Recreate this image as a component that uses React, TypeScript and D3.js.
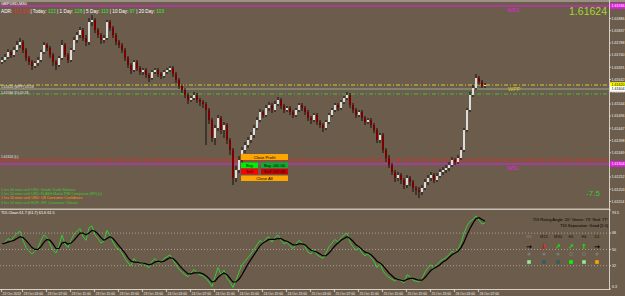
import React from "react";
import * as d3 from "d3";

const W = 625;
const H = 296;

const symbolTitle = "GBPUSD,M30";
const bigPrice = "1.61624";

const timeLabels = [
  "22 Oct 2013", "23 Oct 03:00", "23 Oct 07:00", "23 Oct 11:00", "23 Oct 15:00", "23 Oct 19:00",
  "23 Oct 23:00", "24 Oct 03:00", "24 Oct 07:00", "24 Oct 11:00", "24 Oct 15:00", "24 Oct 19:00",
  "24 Oct 23:00", "25 Oct 03:00", "25 Oct 07:00", "25 Oct 11:00", "25 Oct 15:00", "25 Oct 19:00",
  "25 Oct 23:00", "26 Oct 03:00", "26 Oct 07:00",
];
const timeLabelBars = [0, 7, 15, 23, 31, 39, 47, 55, 63, 71, 79, 87, 95, 103, 111, 119, 127, 135, 143, 151, 159];

const priceTicks = [
  1.61886, 1.61837, 1.61788, 1.6174, 1.61691, 1.61642, 1.61593, 1.61544,
  1.61496, 1.61447, 1.61398, 1.61349, 1.613, 1.61252, 1.61203, 1.61154,
];

const firstOpen = 1.61712;
const closes = [
  1.6172, 1.61732, 1.61752, 1.6174, 1.6176, 1.6178, 1.61792,
  1.6176, 1.61728, 1.61712, 1.61696, 1.61708, 1.6172, 1.61752, 1.6178,
  1.61768, 1.6174, 1.61712, 1.617, 1.61728, 1.6178,
  1.6174, 1.6172, 1.6176, 1.618,
  1.6182, 1.6184, 1.61808, 1.61792, 1.61872, 1.6188,
  1.6184, 1.6182, 1.618, 1.61808, 1.61872,
  1.61848, 1.6182, 1.61792, 1.6178, 1.6176,
  1.61728, 1.617, 1.6168, 1.61712, 1.61688,
  1.61672, 1.6168, 1.6166, 1.61648, 1.61672, 1.6168, 1.61664,
  1.61656, 1.61672, 1.6168, 1.61688, 1.61664, 1.6164,
  1.61616, 1.616, 1.6158, 1.6156,
  1.61568, 1.6158, 1.6156, 1.61552, 1.61544,
  1.6152, 1.6148, 1.61408,
  1.61448, 1.61488, 1.6144, 1.6146, 1.614, 1.6136,
  1.61248, 1.6128, 1.6132,
  1.6136, 1.6138, 1.614, 1.6142, 1.61448, 1.6148,
  1.61512, 1.615, 1.61528, 1.6154, 1.6152, 1.61544, 1.6156, 1.61536, 1.6152, 1.61528,
  1.61512, 1.615, 1.6152, 1.6154, 1.61528,
  1.61512, 1.61488, 1.6148, 1.615, 1.61472, 1.6146, 1.61448, 1.61472,
  1.615, 1.6152, 1.6154, 1.61528, 1.61552, 1.61568, 1.6158,
  1.6154, 1.6152, 1.615, 1.61512, 1.61488, 1.61472, 1.6148, 1.6146,
  1.6144, 1.614, 1.6142, 1.6136, 1.61328,
  1.613, 1.61272, 1.61248, 1.6126, 1.6124, 1.6122,
  1.61248, 1.61232, 1.61208, 1.612, 1.61192, 1.61208,
  1.61232, 1.61248, 1.6126, 1.6124, 1.61256, 1.61272, 1.6128,
  1.61288, 1.613, 1.6132, 1.61312, 1.61328,
  1.6136, 1.6144, 1.6152, 1.6158, 1.61608,
  1.61648, 1.61632, 1.61616, 1.6162,
];
const highs = [
  1.61732, 1.61744, 1.61764, 1.6176, 1.61772, 1.61796, 1.61808,
  1.618, 1.61768, 1.61736, 1.6172, 1.61716, 1.61732, 1.6176, 1.61792,
  1.61788, 1.61776, 1.61748, 1.6172, 1.61736, 1.618,
  1.61788, 1.61748, 1.61768, 1.61812,
  1.61832, 1.61852, 1.61848, 1.6182, 1.61888, 1.619,
  1.61888, 1.61848, 1.61828, 1.6182, 1.6188,
  1.6188, 1.61856, 1.61828, 1.618, 1.61788,
  1.61768, 1.61736, 1.61708, 1.6172, 1.6172,
  1.61696, 1.61688, 1.61688, 1.61668, 1.6168, 1.61688, 1.61688,
  1.61672, 1.6168, 1.61688, 1.61696, 1.61696, 1.61672,
  1.61648, 1.61624, 1.61608, 1.61588,
  1.61576, 1.61592, 1.61588, 1.61568, 1.6156,
  1.61552, 1.61528, 1.61488,
  1.6146, 1.615, 1.61496, 1.61472, 1.61468, 1.61408,
  1.61368, 1.61296, 1.61336,
  1.61372, 1.61392, 1.61412, 1.61432, 1.6146, 1.61492,
  1.61524, 1.6152, 1.6154, 1.61552, 1.61548, 1.61556, 1.61572, 1.61568, 1.61544, 1.61536,
  1.61536, 1.6152, 1.61528, 1.61548, 1.61548,
  1.61536, 1.6152, 1.61496, 1.61508, 1.61508, 1.6148, 1.61468, 1.6148,
  1.61508, 1.61528, 1.61548, 1.61548, 1.6156, 1.61576, 1.61592,
  1.61588, 1.61548, 1.61528, 1.6152, 1.6152, 1.61496, 1.61488, 1.61488,
  1.61468, 1.61448, 1.61428, 1.61428, 1.61368,
  1.6134, 1.61308, 1.6128, 1.61272, 1.61268, 1.61248,
  1.6126, 1.61256, 1.6124, 1.61216, 1.61212, 1.6122,
  1.61244, 1.6126, 1.61272, 1.61268, 1.61268, 1.61284, 1.61292,
  1.613, 1.61312, 1.61332, 1.61328, 1.6134,
  1.61372, 1.61448, 1.61528, 1.61592, 1.6162,
  1.61664, 1.61656, 1.6164, 1.61628,
];
const lows = [
  1.61704, 1.61712, 1.61724, 1.61728, 1.61732, 1.61752, 1.61768,
  1.61748, 1.61716, 1.617, 1.6168, 1.61688, 1.61696, 1.61712, 1.61744,
  1.61756, 1.61728, 1.61696, 1.6168, 1.61692, 1.6172,
  1.61732, 1.61708, 1.61712, 1.61752,
  1.61788, 1.61808, 1.61796, 1.61776, 1.6178, 1.61856,
  1.61828, 1.61808, 1.61784, 1.61788, 1.618,
  1.61836, 1.61808, 1.6178, 1.61768, 1.61748,
  1.61716, 1.61688, 1.61664, 1.61672, 1.61676,
  1.6166, 1.6166, 1.61648, 1.61632, 1.6164, 1.61664, 1.61652,
  1.61644, 1.61648, 1.61664, 1.61672, 1.61652, 1.61628,
  1.61604, 1.61588, 1.61568, 1.61544,
  1.61552, 1.6156, 1.61548, 1.61536, 1.61528,
  1.6138, 1.61464, 1.61392,
  1.6138, 1.61436, 1.61424, 1.61408, 1.61384, 1.6134,
  1.6122, 1.61232, 1.61268,
  1.61308, 1.61348, 1.61368, 1.61388, 1.61408, 1.6144,
  1.61472, 1.61488, 1.61492, 1.61516, 1.61508, 1.61512, 1.61536, 1.61524, 1.61508, 1.61512,
  1.615, 1.61488, 1.61492, 1.61512, 1.61516,
  1.615, 1.61476, 1.61464, 1.61472, 1.6146, 1.61448, 1.61432, 1.6144,
  1.61464, 1.61492, 1.61512, 1.61516, 1.6152, 1.61544, 1.6156,
  1.61528, 1.61508, 1.61488, 1.61492, 1.61476, 1.6146, 1.61464, 1.61448,
  1.61428, 1.61388, 1.61388, 1.61348, 1.61312,
  1.61288, 1.6126, 1.61232, 1.61236, 1.61224, 1.61204,
  1.61208, 1.61216, 1.61192, 1.6118, 1.61168, 1.6118,
  1.612, 1.6122, 1.61236, 1.61228, 1.61232, 1.61248, 1.6126,
  1.61268, 1.61276, 1.61292, 1.613, 1.61304,
  1.6132, 1.61352, 1.61432, 1.61512, 1.61572,
  1.616, 1.6162, 1.61608, 1.61608,
];

const tdiGreen = [
  55, 58, 62, 60, 64, 68, 70,
  60, 52, 48, 45, 48, 52, 60, 66,
  63, 56, 49, 46, 54, 66,
  56, 52, 60, 67,
  70, 73, 64, 60, 74, 76,
  66, 62, 57, 59, 71,
  65, 58, 52, 50, 46,
  40, 35, 32, 40, 36,
  33, 36, 32, 30, 37, 40, 36,
  35, 40, 42, 44, 38, 33,
  28, 25, 22, 20,
  24, 28, 24, 22, 21,
  18, 14, 9,
  20, 30, 22, 27, 18, 14,
  8, 16, 25,
  33, 37, 41, 45, 50, 55,
  60, 57, 62, 64, 58, 63, 66, 60, 56, 58,
  54, 51, 56, 60, 57,
  53, 47, 45, 50, 44, 42, 40, 46,
  53, 57, 61, 58, 63, 66, 68,
  58, 53, 49, 52, 46, 43, 45, 41,
  37, 30, 35, 26, 22,
  19, 17, 15, 18, 15, 13,
  22, 20, 16, 15, 14, 18,
  25, 30, 33, 28, 33, 37, 39,
  41, 44, 48, 46, 50,
  57, 68, 76, 81, 83,
  87, 82, 78, 79,
];
const tdiBlack = [
  56, 57, 58, 59, 60, 62, 64,
  63, 60, 56, 52, 50, 50, 53, 58,
  61, 60, 56, 51, 51, 57,
  58, 56, 57, 60,
  64, 68, 68, 66, 68, 71,
  70, 67, 63, 60, 62,
  64, 62, 58, 54, 50,
  46, 41, 37, 36, 36,
  35, 35, 34, 33, 34, 36, 37,
  36, 37, 39, 41, 40, 37,
  33, 29, 26, 23,
  23, 24, 24, 24, 23,
  21, 18, 14,
  15, 19, 22, 24, 22, 18,
  14, 14, 17,
  22, 28, 34, 39, 44, 49,
  54, 57, 59, 61, 61, 61, 62, 62, 60, 59,
  57, 55, 55, 56, 56,
  55, 52, 49, 48, 47, 45, 43, 43,
  46, 50, 54, 57, 60, 62, 64,
  62, 59, 55, 53, 50, 47, 46, 44,
  41, 37, 35, 32, 28,
  24, 21, 18, 17, 16, 15,
  17, 18, 18, 17, 16, 16,
  19, 23, 27, 29, 31, 33, 36,
  38, 41, 44, 46, 48,
  52, 58, 66, 73, 79,
  84, 85, 83, 81,
];
const tdiLevels = [68, 50, 32];
const tdiAxisLabels = ["93.5", "68", "50", "32", "6.3"];
const tdiAxisValues = [93.5, 68, 50, 32, 6.3];

const adrParts = [
  { t: "ADR: ", c: "#ffffff" }, { t: "117.5%", c: "#ff2020" }, { t: " | Today: ", c: "#ffffff" },
  { t: "122", c: "#33ee33" }, { t: " | 1 Day: ", c: "#ffffff" }, { t: "128", c: "#33ee33" },
  { t: " | 5 Day: ", c: "#ffffff" }, { t: "113", c: "#33ee33" }, { t: " | 10 Day: ", c: "#ffffff" },
  { t: "97", c: "#33ee33" }, { t: "   |   20 Day: ", c: "#ffffff" }, { t: "103", c: "#33ee33" },
];

const newsLines = [
  { t: "1 hrs 40 mins until USD: Goods Trade Balance", c: "#33cc33" },
  { t: "1 hrs 10 mins until USD: FLASH Markit PMI Composite (HF) [v]", c: "#33cc33" },
  { t: "1 hrs 10 mins until USD: CB Consumer Confidence", c: "#ff9900" },
  { t: "3 hrs 10 mins until EUR: GfK Consumer Climate", c: "#33cc33" },
];

const levels = [
  { p: 1.61936, color: "#e020e0", dash: "", w: 1.2, label: "WR1", box: "#e020e0", boxText: "#ffffff" },
  { p: 1.6162, color: "#d8c830", dash: "4,2,1,2", w: 1, label: "", box: "#ffff00", boxText: "#000000" },
  { p: 1.61604, color: "#8fae8f", dash: "", w: 1, label: "", box: "#ffffff", boxText: "#000000" },
  { p: 1.61584, color: "#40c040", dash: "4,2,1,2", w: 1, label: "", box: "", boxText: "" },
  { p: 1.61324, color: "#d03030", dash: "4,2,1,2", w: 1, label: "", box: "", boxText: "" },
  { p: 1.61316, color: "#d03030", dash: "4,2,1,2", w: 1, label: "", box: "", boxText: "" },
  { p: 1.61304, color: "#e020e0", dash: "", w: 1.2, label: "WS1", box: "#e020e0", boxText: "#ffffff" },
];

const tfNames = ["M5", "M15", "M30", "H1", "H4", "D1"];
const tfArrows = [
  { s: "→", c: "#000000" }, { s: "↓", c: "#ff0000" }, { s: "↗", c: "#00ee00" },
  { s: "↗", c: "#00ee00" }, { s: "↑", c: "#00ee00" }, { s: "→", c: "#000000" },
];
const tfDots = ["fill", "fill", "fill", "ring", "ring", "fill"];
const tfSquares = ["#90ee90", "#2f5f5f", "#2f5f5f", "#00ff00", "#90ee90", "#ffa500"];

const FONT = "'Liberation Sans', 'DejaVu Sans', sans-serif";
const BG = "#6c5c4b";

export default function App() {
  const N = closes.length;
  const axisX = 609;
  const mainTop = 0;
  const mainBottom = 209;
  const indTop = 210;
  const indBottom = 289;

  const x = d3.scaleLinear().domain([0, N - 1]).range([1, 1 + 3 * (N - 1)]);
  const y = d3.scaleLinear().domain([1.61124, 1.6196]).range([mainBottom, mainTop]);
  const yi = d3.scaleLinear().domain([6.3, 93.5]).range([indBottom, indTop]);

  const opens = closes.map((c, i) => (i === 0 ? firstOpen : closes[i - 1]));

  const lineGen = d3
    .line<number>()
    .x((_, i) => x(i) + 1)
    .y((d) => yi(d));

  const tfX = [529, 544, 558, 571, 584, 597];

  return (
    <svg width={W} height={H} style={{ position: "absolute", left: 0, top: 0, display: "block" }} fontFamily={FONT}>
      <rect x={0} y={0} width={W} height={H} fill={BG} />
      <rect x={0} y={0} width={W} height={2} fill="#9c9184" />
      <defs>
        <clipPath id="mainClip">
          <rect x={0} y={mainTop} width={axisX} height={mainBottom - mainTop} />
        </clipPath>
        <clipPath id="indClip">
          <rect x={0} y={indTop} width={axisX} height={indBottom - indTop} />
        </clipPath>
      </defs>

      {levels.map((l, k) => (
        <line key={"lv" + k} x1={0} x2={axisX} y1={y(l.p)} y2={y(l.p)} stroke={l.color} strokeWidth={l.w} strokeDasharray={l.dash || undefined} />
      ))}

      <g clipPath="url(#mainClip)">
        {closes.map((c, i) => {
          const o = opens[i];
          const up = c >= o;
          const top = y(Math.max(o, c));
          const bot = y(Math.min(o, c));
          const cx = x(i);
          return (
            <g key={"c" + i}>
              <line x1={cx + 1} x2={cx + 1} y1={y(highs[i])} y2={y(lows[i])} stroke="#111" strokeWidth={1} />
              <rect x={cx} y={top} width={2} height={Math.max(1, bot - top)} fill={up ? "#dcdcdc" : "#7a0000"} />
            </g>
          );
        })}
      </g>

      <text x={1} y={5} fontSize={4} fill="#ffffff">{symbolTitle}</text>
      <text x={1} y={12.5} fontSize={4.7} fill="#fff">
        {adrParts.map((p, k) => (
          <tspan key={"a" + k} fill={p.c}>{p.t}</tspan>
        ))}
      </text>
      <text x={607} y={14.5} fontSize={10.5} fill="#a6d634" textAnchor="end">{bigPrice}</text>
      <text x={507} y={11.5} fontSize={5.5} fill="#e020e0">{levels[0].label}</text>
      <text x={508} y={y(1.61604) + 2} fontSize={5.5} fill="#d8c830">WPP</text>
      <text x={507} y={y(1.61304) + 5.5} fontSize={5.5} fill="#e020e0">{levels[6].label}</text>

      <text x={1} y={y(1.6162) + 3} fontSize={3.4} fill="#e8e8e8">1.61620 (WPP) 05:28</text>
      <text x={1} y={y(1.61584) - 0.5} fontSize={3.4} fill="#e8e8e8">1.61584 (D) 05:28</text>
      <text x={1} y={y(1.61324) - 1} fontSize={3.4} fill="#e8e8e8">1.61324 (L)</text>

      {newsLines.map((n, k) => (
        <text key={"n" + k} x={1} y={190.5 + k * 4.4} fontSize={3.6} fill={n.c}>{n.t}</text>
      ))}

      <g fontSize={4.2} textAnchor="middle">
        <rect x={241} y={154} width={47} height={6} fill="#ffa500" />
        <text x={264.5} y={158.6} fill="#000">Close Profit</text>
        <rect x={241} y={162.5} width={17} height={5.5} fill="#00ee00" />
        <text x={249.5} y={166.7} fill="#000">Buy</text>
        <rect x={261} y={162.5} width={27} height={5.5} fill="#11aa33" />
        <text x={274.5} y={166.7} fill="#000">Buy .00/.00</text>
        <rect x={241} y={168.8} width={17} height={5.5} fill="#ff0000" />
        <text x={249.5} y={173} fill="#000">Sell</text>
        <rect x={261} y={168.8} width={27} height={5.5} fill="#cc0000" />
        <text x={274.5} y={173} fill="#000">Sell .00/.00</text>
        <rect x={241} y={175.5} width={47} height={5.5} fill="#ffa500" />
        <text x={264.5} y={179.7} fill="#000">Close All</text>
      </g>

      <text x={600} y={196} fontSize={8} fill="#33cc33" textAnchor="end">-7.5</text>

      <rect x={0} y={208.5} width={axisX} height={1.5} fill="#c8c0b4" />

      <text x={1} y={214} fontSize={3.8} fill="#ffffff">TDI-Clean 61.7 (61.7) 61.6 61.5</text>
      {tdiLevels.map((v, k) => (
        <line key={"tl" + k} x1={0} x2={axisX} y1={yi(v)} y2={yi(v)} stroke="#b8b0a4" strokeWidth={0.8} strokeDasharray="1,2" />
      ))}
      <g clipPath="url(#indClip)">
        <path d={lineGen(tdiGreen) || ""} fill="none" stroke="#33cc33" strokeWidth={1} />
        <path d={lineGen(tdiBlack) || ""} fill="none" stroke="#000000" strokeWidth={1.2} />
      </g>

      <text x={608} y={221} fontSize={4} fill="#000" textAnchor="end">TDI Rising Angle: 20° Green: 73° Red: 77°</text>
      <text x={608} y={226.5} fontSize={4} fill="#000" textAnchor="end">TDI Separation: Good [2.0]</text>
      {tfNames.map((n, k) => (
        <text key={"tf" + k} x={tfX[k]} y={238} fontSize={4} fill={k === 0 ? "#888" : "#111"} textAnchor="middle">{n}</text>
      ))}
      {tfArrows.map((a, k) => (
        <text key={"ar" + k} x={tfX[k]} y={248.5} fontSize={7} fontWeight="bold" fill={a.c} textAnchor="middle" fontFamily="'DejaVu Sans', sans-serif">{a.s}</text>
      ))}
      {tfDots.map((d, k) =>
        d === "fill" ? (
          <circle key={"dt" + k} cx={tfX[k]} cy={254} r={1.6} fill="#7a7a7a" />
        ) : (
          <circle key={"dt" + k} cx={tfX[k]} cy={254} r={1.6} fill="none" stroke="#7a7a7a" strokeWidth={0.8} />
        )
      )}
      {tfSquares.map((c, k) => (
        <rect key={"sq" + k} x={tfX[k] - 1.8} y={260.2} width={3.6} height={3.6} fill={c} />
      ))}

      <line x1={axisX + 0.5} x2={axisX + 0.5} y1={0} y2={indBottom} stroke="#d8d0c4" strokeWidth={1} />
      <line x1={0} x2={axisX + 1} y1={indBottom + 0.5} y2={indBottom + 0.5} stroke="#d8d0c4" strokeWidth={1} />
      {priceTicks.map((p, k) => (
        <g key={"pt" + k}>
          <line x1={axisX} x2={axisX + 2} y1={y(p)} y2={y(p)} stroke="#e0e0e0" strokeWidth={0.8} />
          <text x={611.5} y={y(p) + 1.3} fontSize={3.6} fill="#f0f0f0">{p.toFixed(5)}</text>
        </g>
      ))}
      {levels.filter((l) => l.box).map((l, k) => (
        <g key={"bx" + k}>
          <rect x={610} y={y(l.p) - 2.8} width={15} height={5.6} fill={l.box} />
          <text x={611.5} y={y(l.p) + 1.3} fontSize={3.6} fill={l.boxText}>{l.p.toFixed(5)}</text>
        </g>
      ))}
      {tdiAxisValues.map((v, k) => (
        <g key={"ta" + k}>
          <line x1={axisX} x2={axisX + 2} y1={yi(v)} y2={yi(v)} stroke="#e0e0e0" strokeWidth={0.8} />
          <text x={612} y={Math.min(Math.max(yi(v) + 1.3, 214), 288)} fontSize={3.6} fill="#f0f0f0">{tdiAxisLabels[k]}</text>
        </g>
      ))}
      {timeLabels.map((t, k) => {
        const tx = x(timeLabelBars[k]);
        return (
          <g key={"tm" + k}>
            <line x1={tx + 0.5} x2={tx + 0.5} y1={indBottom} y2={indBottom + 3} stroke="#e0e0e0" strokeWidth={0.8} />
            <text x={tx + 1.5} y={294.5} fontSize={3.4} fill="#f0f0f0">{t}</text>
          </g>
        );
      })}
    </svg>
  );
}
